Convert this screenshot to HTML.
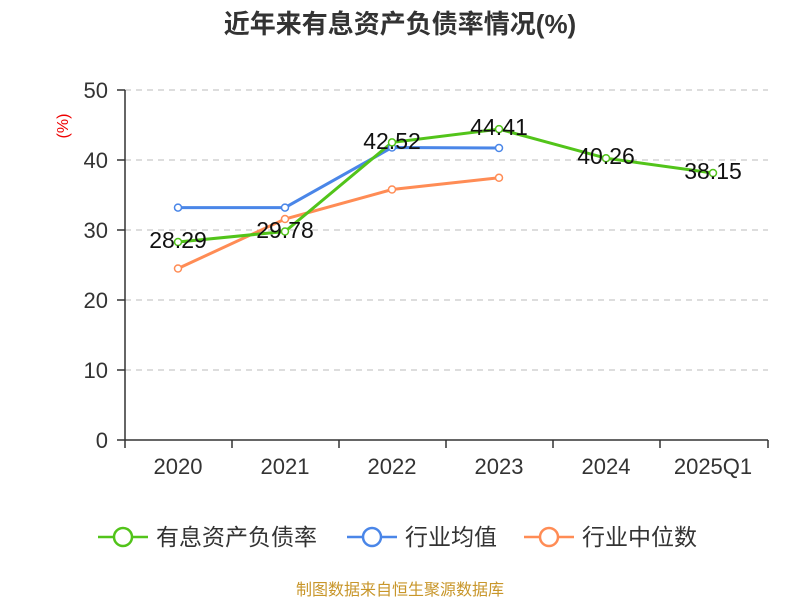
<!DOCTYPE html>
<html><head><meta charset="utf-8"><style>
body{margin:0;background:#fff;}
svg{font-family:"Liberation Sans","Noto Sans CJK SC",sans-serif;}
</style></head><body>
<svg width="800" height="600" viewBox="0 0 800 600" xmlns="http://www.w3.org/2000/svg">
<rect width="800" height="600" fill="#fff"/>
<text x="400" y="33" text-anchor="middle" font-size="26" font-weight="bold" fill="#333">近年来有息资产负债率情况(%)</text>
<text x="0" y="0" transform="translate(68,126) rotate(-90)" text-anchor="middle" font-size="16" fill="#e00">(%)</text>
<g stroke="#bbb" stroke-dasharray="6,5" stroke-width="1">
<line x1="125" y1="90" x2="768" y2="90"/><line x1="125" y1="160" x2="768" y2="160"/>
<line x1="125" y1="230" x2="768" y2="230"/><line x1="125" y1="300" x2="768" y2="300"/>
<line x1="125" y1="370" x2="768" y2="370"/>
</g>
<g stroke="#333" stroke-width="1.5">
<line x1="125" y1="90" x2="125" y2="440"/>
<line x1="117" y1="90" x2="125" y2="90"/><line x1="117" y1="160" x2="125" y2="160"/>
<line x1="117" y1="230" x2="125" y2="230"/><line x1="117" y1="300" x2="125" y2="300"/>
<line x1="117" y1="370" x2="125" y2="370"/><line x1="117" y1="440" x2="125" y2="440"/>
<line x1="125" y1="440" x2="768" y2="440"/>
<line x1="125" y1="440" x2="125" y2="448"/><line x1="232" y1="440" x2="232" y2="448"/>
<line x1="339" y1="440" x2="339" y2="448"/><line x1="446" y1="440" x2="446" y2="448"/>
<line x1="553" y1="440" x2="553" y2="448"/><line x1="660" y1="440" x2="660" y2="448"/>
<line x1="768" y1="440" x2="768" y2="448"/>
</g>
<g font-size="22" fill="#333" text-anchor="end">
<text x="108" y="98">50</text><text x="108" y="168">40</text><text x="108" y="238">30</text>
<text x="108" y="308">20</text><text x="108" y="378">10</text><text x="108" y="448">0</text>
</g>
<g font-size="22" fill="#333" text-anchor="middle">
<text x="178" y="474">2020</text><text x="285" y="474">2021</text><text x="392" y="474">2022</text>
<text x="499" y="474">2023</text><text x="606" y="474">2024</text><text x="713" y="474">2025Q1</text>
</g>
<g fill="none" stroke-width="3">
<polyline stroke="#ff8c55" points="178,268.5 285,219 392,189.5 499,177.8"/>
<polyline stroke="#4a86e8" points="178,207.6 285,207.6 392,147.5 499,148"/>
<polyline stroke="#52c41a" points="178,242 285,231.5 392,142.4 499,129.1 606,158.2 713,173"/>
</g>
<g fill="#fff" stroke-width="1.5">
<g stroke="#ff8c55"><circle cx="178" cy="268.5" r="3.5"/><circle cx="285" cy="219" r="3.5"/><circle cx="392" cy="189.5" r="3.5"/><circle cx="499" cy="177.8" r="3.5"/></g>
<g stroke="#4a86e8"><circle cx="178" cy="207.6" r="3.5"/><circle cx="285" cy="207.6" r="3.5"/><circle cx="392" cy="147.5" r="3.5"/><circle cx="499" cy="148" r="3.5"/></g>
<g stroke="#52c41a"><circle cx="178" cy="242" r="3.5"/><circle cx="285" cy="231.5" r="3.5"/><circle cx="392" cy="142.4" r="3.5"/><circle cx="499" cy="129.1" r="3.5"/><circle cx="606" cy="158.2" r="3.5"/><circle cx="713" cy="173" r="3.5"/></g>
</g>
<g font-size="23" fill="#111" text-anchor="middle">
<text x="178" y="248">28.29</text><text x="285" y="238">29.78</text><text x="392" y="149">42.52</text>
<text x="499" y="135">44.41</text><text x="606" y="164">40.26</text><text x="713" y="179">38.15</text>
</g>
<g stroke-width="2.5" fill="#fff">
<line x1="98" y1="537" x2="148" y2="537" stroke="#52c41a"/><circle cx="123" cy="537" r="9" stroke="#52c41a"/>
<line x1="347" y1="537" x2="397" y2="537" stroke="#4a86e8"/><circle cx="372" cy="537" r="9" stroke="#4a86e8"/>
<line x1="524" y1="537" x2="574" y2="537" stroke="#ff8c55"/><circle cx="549" cy="537" r="9" stroke="#ff8c55"/>
</g>
<g font-size="23" fill="#333">
<text x="156" y="545">有息资产负债率</text><text x="405" y="545">行业均值</text><text x="582" y="545">行业中位数</text>
</g>
<text x="400" y="595" text-anchor="middle" font-size="16" fill="#c8962a">制图数据来自恒生聚源数据库</text>
</svg>
</body></html>
